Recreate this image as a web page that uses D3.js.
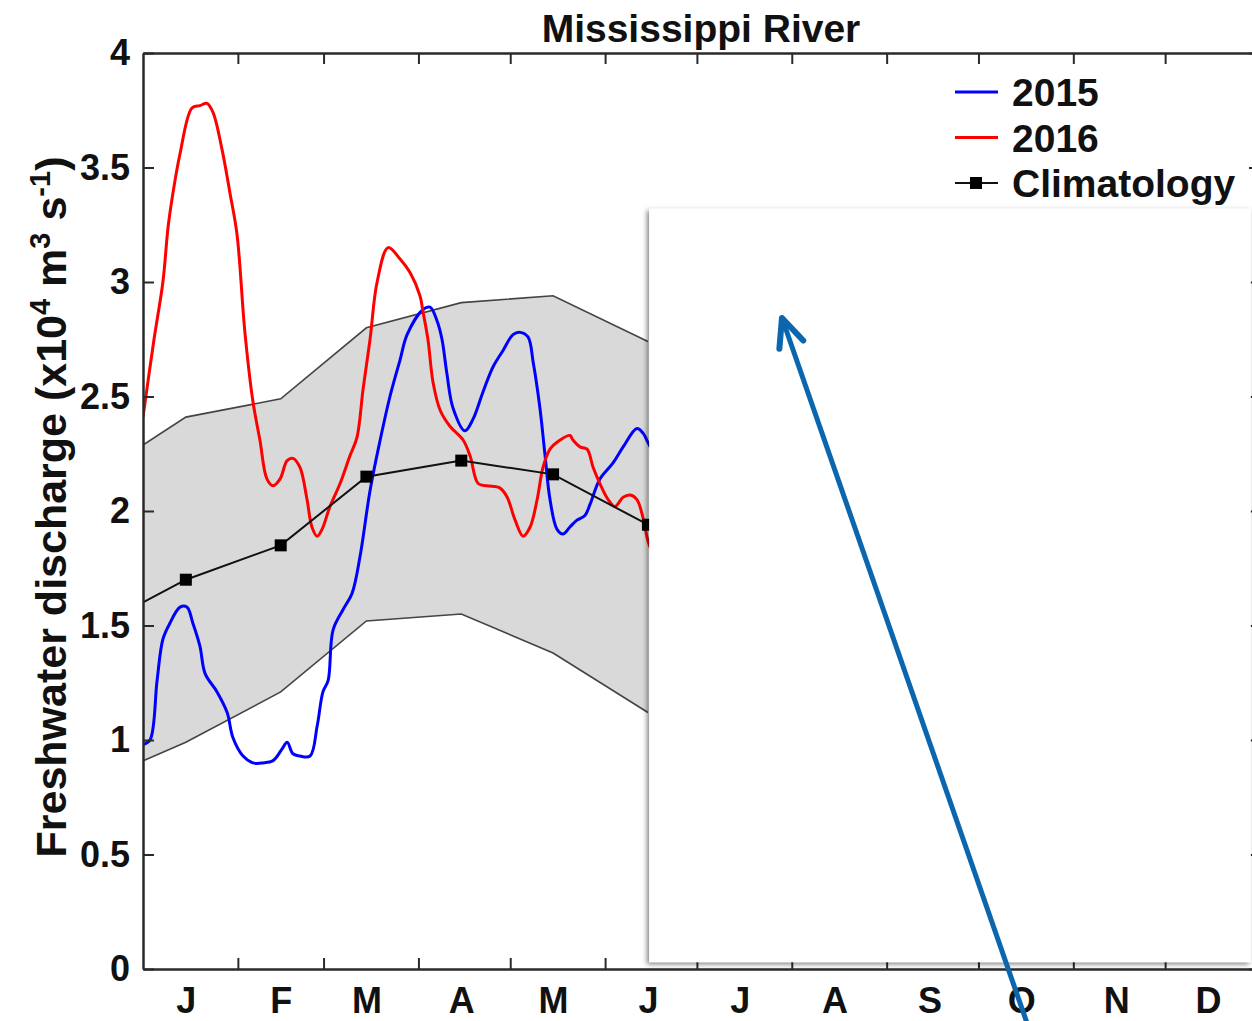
<!DOCTYPE html>
<html>
<head>
<meta charset="utf-8">
<script src="https://cdn.jsdelivr.net/npm/d3@7"></script>
<style>
  body { margin: 0; background: #fff; }
  svg { display: block; font-family: "Liberation Sans", Arial, Helvetica, sans-serif; font-weight: bold; }
  .axis path, .axis line { stroke: #2a2a2a; }
  .axis text { fill: #111; font-size: 36px; font-family: "Liberation Sans", Arial, sans-serif; font-weight: bold; }
</style>
</head>
<body>
<div class="container"></div>
<script>
/* month axis */
const months = ["J", "F", "M", "A", "M", "J", "J", "A", "S", "O", "N", "D"];
const monthStartDays = [0, 31, 59, 90, 120, 151, 181, 212, 243, 273, 304, 334, 365];
const midMonthDays = [14, 45, 73, 104, 134, 165, 195, 226, 257, 287, 318, 348];
const yTicks = [0, 0.5, 1, 1.5, 2, 2.5, 3, 3.5, 4];

/* climatology (monthly, first point = previous December) */
const climDays = [-17, 14, 45, 73, 104, 134, 165];
const climMean = [1.48, 1.70, 1.85, 2.15, 2.22, 2.16, 1.94];
const climUpper = [2.14, 2.41, 2.49, 2.80, 2.91, 2.94, 2.74];
const climLower = [0.81, 0.99, 1.21, 1.52, 1.55, 1.38, 1.12];

/* 2015 daily discharge (x10^4 m3/s) */
const days2015 = [0, 2.3, 4.6, 6.5, 8.8, 12.1, 14.4, 16.3, 18.6, 20.3, 24.2, 27.5, 29.4, 32.7, 35.9, 39.2, 42.5, 45.4, 47.1, 49.0,
  51.3, 54.6, 56.9, 58.8, 60.5, 62.1, 65.4, 68.3, 70.9, 74.2, 77.5, 80.7, 84.0, 86.3, 91.5, 93.8, 96.1, 97.7, 99.3, 101.3,
  105.2, 107.8, 111.1, 114.4, 117.6, 120.9, 123.2, 125.8, 127.5, 129.7, 131.4, 133.0, 135.3, 137.3, 139.5, 141.8, 144.4, 146.1, 149.3, 153.6,
  156.9, 161.4, 163.4, 165.0, 167.3];
const vals2015 = [0.98, 1.00, 1.26, 1.44, 1.51, 1.58, 1.58, 1.51, 1.41, 1.29, 1.21, 1.12, 1.01, 0.93, 0.90, 0.90, 0.91, 0.96, 0.99, 0.94,
  0.93, 0.93, 1.06, 1.21, 1.26, 1.48, 1.57, 1.64, 1.80, 2.09, 2.31, 2.50, 2.66, 2.77, 2.88, 2.89, 2.83, 2.75, 2.60, 2.45,
  2.35, 2.40, 2.52, 2.63, 2.70, 2.77, 2.78, 2.76, 2.65, 2.45, 2.24, 2.05, 1.92, 1.90, 1.93, 1.96, 1.98, 2.03, 2.14, 2.21,
  2.28, 2.36, 2.34, 2.30, 2.24];

/* 2016 daily discharge (x10^4 m3/s) */
const days2016 = [0, 3.6, 6.5, 8.2, 9.8, 12.1, 16.0, 18.6, 20.9, 22.9, 25.8, 28.4, 30.7, 33.3, 35.9, 38.2, 40.5, 42.5, 44.8, 47.1,
  49.0, 51.3, 53.6, 55.2, 56.9, 58.5, 61.1, 64.4, 67.6, 69.9, 71.9, 74.2, 76.5, 80.1, 84.0, 87.3, 90.5, 91.5, 93.1, 94.8,
  97.1, 100.3, 104.6, 106.9, 109.5, 112.4, 116.7, 119.0, 121.6, 124.2, 126.5, 128.8, 130.7, 133.0, 136.3, 139.5, 140.5, 142.8, 145.1, 147.1,
  149.3, 152.0, 154.2, 156.9, 159.2, 161.4, 163.4, 165.0, 167.3];
const vals2016 = [2.41, 2.75, 3.00, 3.24, 3.39, 3.56, 3.76, 3.77, 3.78, 3.74, 3.58, 3.39, 3.21, 2.78, 2.48, 2.31, 2.14, 2.11, 2.14, 2.22,
  2.23, 2.19, 2.05, 1.93, 1.89, 1.92, 2.02, 2.12, 2.24, 2.32, 2.53, 2.75, 3.00, 3.15, 3.10, 3.04, 2.94, 2.87, 2.75, 2.56,
  2.44, 2.37, 2.31, 2.24, 2.12, 2.11, 2.10, 2.06, 1.96, 1.89, 1.93, 2.05, 2.19, 2.27, 2.31, 2.33, 2.31, 2.28, 2.27, 2.19,
  2.12, 2.05, 2.02, 2.06, 2.07, 2.05, 1.97, 1.87, 1.79];

const seriesNames = ["2015", "2016", "Climatology"];

/* annotation: white cover box and arrow, in data units */
const coverDays = [165.4, 362];
const coverVals = [0.03, 3.32];
const arrowDays = [208.8, 289.5];
const arrowVals = [2.843, -0.26];

const w = 1252;
const h = 1021;

const x = d3.scaleLinear().domain([0, 365]).range([143, 1260]);
const y = d3.scaleLinear().domain([0, 4]).range([969, 53]);

const svg = d3.select(".container")
  .append("svg")
  .attr("width", w)
  .attr("height", h);

const defs = svg.append("defs");
defs.append("clipPath").attr("id", "plot-clip")
  .append("rect")
  .attr("x", x(0)).attr("y", y(4))
  .attr("width", x(365) - x(0)).attr("height", y(0) - y(4));

const shadow = defs.append("filter").attr("id", "shadow")
  .attr("x", "-5%").attr("y", "-5%").attr("width", "110%").attr("height", "110%");
shadow.append("feDropShadow")
  .attr("dx", -2).attr("dy", 2).attr("stdDeviation", 2.5)
  .attr("flood-color", "#000").attr("flood-opacity", 0.5);

const plot = svg.append("g").attr("clip-path", "url(#plot-clip)");

/* grey climatology envelope */
const band = climDays.map((d, i) => ({ day: d, lo: climLower[i], hi: climUpper[i] }));
plot.append("path")
  .datum(band)
  .attr("fill", "#d9d9d9")
  .attr("d", d3.area().x(d => x(d.day)).y0(d => y(d.lo)).y1(d => y(d.hi)));

[climUpper, climLower].forEach(edge => {
  plot.append("path")
    .datum(climDays.map((d, i) => [d, edge[i]]))
    .attr("fill", "none")
    .attr("stroke", "#444")
    .attr("stroke-width", 1.6)
    .attr("d", d3.line().x(d => x(d[0])).y(d => y(d[1])));
});

const line = d3.line().x(d => x(d[0])).y(d => y(d[1])).curve(d3.curveCatmullRom);

plot.append("path")
  .datum(days2015.map((d, i) => [d, vals2015[i]]))
  .attr("fill", "none")
  .attr("stroke", "#0000ff")
  .attr("stroke-width", 3)
  .attr("stroke-linejoin", "round")
  .attr("d", line);

plot.append("path")
  .datum(days2016.map((d, i) => [d, vals2016[i]]))
  .attr("fill", "none")
  .attr("stroke", "#ff0000")
  .attr("stroke-width", 3)
  .attr("stroke-linejoin", "round")
  .attr("d", line);

plot.append("path")
  .datum(climDays.map((d, i) => [d, climMean[i]]))
  .attr("fill", "none")
  .attr("stroke", "#111")
  .attr("stroke-width", 2)
  .attr("d", d3.line().x(d => x(d[0])).y(d => y(d[1])));

plot.selectAll("rect.marker")
  .data(climDays.map((d, i) => [d, climMean[i]]).filter(d => d[0] >= 0))
  .enter()
  .append("rect")
  .attr("class", "marker")
  .attr("x", d => x(d[0]) - 6)
  .attr("y", d => y(d[1]) - 6)
  .attr("width", 12)
  .attr("height", 12)
  .attr("fill", "#000");

/* axes box with inward ticks */
svg.append("g").attr("class", "axis")
  .attr("transform", `translate(0,${y(0)})`)
  .call(d3.axisBottom(x).tickValues(monthStartDays.slice(1, 12)).tickSizeInner(-11).tickSizeOuter(0).tickFormat(""))
  .select(".domain").attr("stroke-width", 2.5);

svg.append("g").attr("class", "axis")
  .attr("transform", `translate(0,${y(4)})`)
  .call(d3.axisTop(x).tickValues(monthStartDays.slice(1, 12)).tickSizeInner(-11).tickSizeOuter(0).tickFormat(""))
  .select(".domain").attr("stroke-width", 2.5);

svg.append("g").attr("class", "axis")
  .attr("transform", `translate(${x(365)},0)`)
  .call(d3.axisRight(y).tickValues(yTicks).tickSizeInner(-11).tickSizeOuter(0).tickFormat(""))
  .select(".domain").attr("stroke-width", 2.5);

svg.append("g").attr("class", "axis")
  .attr("transform", `translate(${x(0)},0)`)
  .call(d3.axisLeft(y).tickValues(yTicks).tickSizeInner(-11).tickSizeOuter(0).tickPadding(13).tickFormat(d => String(d)))
  .select(".domain").attr("stroke-width", 2.5);

svg.selectAll(".axis .tick line").attr("stroke-width", 2);

/* month labels */
const monthAxis = svg.append("g").attr("class", "axis")
  .attr("transform", `translate(0,${y(0)})`)
  .call(d3.axisBottom(x).tickValues(midMonthDays).tickSize(0).tickPadding(18).tickFormat((d, i) => months[i]));
monthAxis.select(".domain").remove();

/* title */
svg.append("text")
  .attr("x", 701)
  .attr("y", 42)
  .attr("text-anchor", "middle")
  .style("font-size", "39px")
  .attr("fill", "#111")
  .text("Mississippi River");

/* y label */
const ylab = svg.append("text")
  .attr("transform", "translate(66,507) rotate(-90)")
  .attr("text-anchor", "middle")
  .style("font-size", "43px")
  .attr("fill", "#111");
ylab.append("tspan").text("Freshwater discharge (x10");
ylab.append("tspan").attr("baseline-shift", "super").style("font-size", "29px").text("4");
ylab.append("tspan").text(" m");
ylab.append("tspan").attr("baseline-shift", "super").style("font-size", "29px").text("3");
ylab.append("tspan").text(" s");
ylab.append("tspan").attr("baseline-shift", "super").style("font-size", "29px").text("-1");
ylab.append("tspan").text(")");

/* legend */
const legend = svg.append("g").attr("id", "legend");
const legendColors = ["#0000ff", "#ff0000", "#111"];
seriesNames.forEach((name, i) => {
  const ly = 92 + i * 45.5;
  legend.append("line")
    .attr("x1", 955).attr("x2", 998)
    .attr("y1", ly).attr("y2", ly)
    .attr("stroke", legendColors[i])
    .attr("stroke-width", i === 2 ? 2 : 3);
  if (i === 2) {
    legend.append("rect")
      .attr("x", 970).attr("y", ly - 6)
      .attr("width", 12).attr("height", 12)
      .attr("fill", "#000");
  }
  legend.append("text")
    .attr("x", 1012)
    .attr("y", ly + 14)
    .style("font-size", "39px")
    .attr("fill", "#111")
    .text(name);
});

/* white cover box with shadow */
svg.append("rect")
  .attr("x", x(coverDays[0]))
  .attr("y", y(coverVals[1]))
  .attr("width", x(coverDays[1]) - x(coverDays[0]))
  .attr("height", y(coverVals[0]) - y(coverVals[1]))
  .attr("fill", "#fff")
  .attr("filter", "url(#shadow)");

/* arrow */
const tip = [x(arrowDays[0]), y(arrowVals[0])];
const tail = [x(arrowDays[1]), y(arrowVals[1])];
const ang = Math.atan2(tail[1] - tip[1], tail[0] - tip[0]);
const armLen = 31;
const armAng = 24 * Math.PI / 180;
const armL = [tip[0] + armLen * Math.cos(ang + armAng), tip[1] + armLen * Math.sin(ang + armAng)];
const armR = [tip[0] + armLen * Math.cos(ang - armAng), tip[1] + armLen * Math.sin(ang - armAng)];

svg.append("line")
  .attr("x1", tail[0]).attr("y1", tail[1])
  .attr("x2", tip[0]).attr("y2", tip[1])
  .attr("stroke", "#0b66ae")
  .attr("stroke-width", 5);
svg.append("path")
  .attr("d", d3.line()([armL, tip, armR]))
  .attr("fill", "none")
  .attr("stroke", "#0b66ae")
  .attr("stroke-width", 6)
  .attr("stroke-linecap", "round")
  .attr("stroke-linejoin", "round");
</script>
</body>
</html>
